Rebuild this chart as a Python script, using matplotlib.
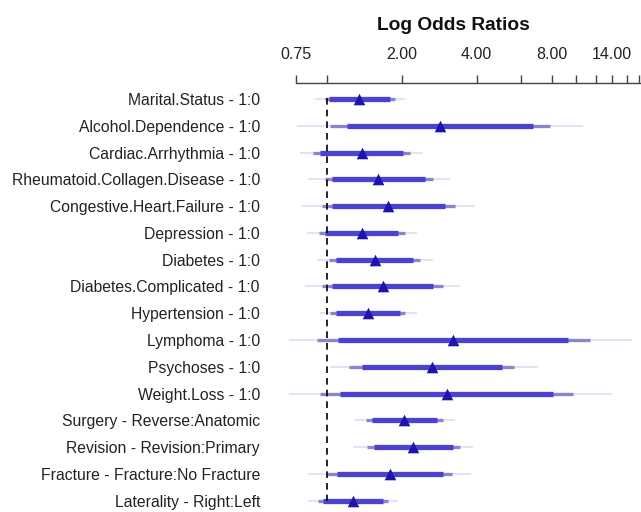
import matplotlib
matplotlib.use("Agg")
import matplotlib.pyplot as plt
import numpy as np

plt.rcParams['font.family'] = ['Liberation Sans', 'DejaVu Sans']

labels = [
    "Marital.Status - 1:0", "Alcohol.Dependence - 1:0", "Cardiac.Arrhythmia - 1:0",
    "Rheumatoid.Collagen.Disease - 1:0", "Congestive.Heart.Failure - 1:0",
    "Depression - 1:0", "Diabetes - 1:0", "Diabetes.Complicated - 1:0",
    "Hypertension - 1:0", "Lymphoma - 1:0", "Psychoses - 1:0", "Weight.Loss - 1:0",
    "Surgery - Reverse:Anatomic", "Revision - Revision:Primary",
    "Fracture - Fracture:No Fracture", "Laterality - Right:Left",
]
estimate = [1.352, 2.850, 1.382, 1.611, 1.767, 1.382, 1.563, 1.678,
            1.469, 3.222, 2.639, 3.031, 2.049, 2.226, 1.795, 1.279]
lo90 = [1.024, 1.203, 0.940, 1.047, 1.047, 0.984, 1.090, 1.047,
        1.090, 1.113, 1.382, 1.131, 1.516, 1.548, 1.103, 0.969]
hi90 = [1.795, 6.750, 2.030, 2.481, 2.984, 1.938, 2.226, 2.678,
        1.969, 9.326, 5.040, 8.119, 2.780, 3.222, 2.922, 1.687]
lo95 = [0.984, 1.031, 0.884, 0.984, 0.955, 0.934, 1.024, 0.955,
        1.031, 0.917, 1.232, 0.940, 1.438, 1.447, 1.000, 0.925]
hi95 = [1.880, 7.875, 2.159, 2.678, 3.273, 2.062, 2.369, 2.922,
        2.062, 11.40, 5.663, 9.712, 2.938, 3.428, 3.175, 1.767]
lo99 = [0.898, 0.758, 0.781, 0.844, 0.794, 0.831, 0.912, 0.818,
        0.940, 0.708, 1.031, 0.708, 1.299, 1.272, 0.844, 0.844]
hi99 = [2.062, 10.71, 2.442, 3.125, 3.938, 2.297, 2.678, 3.428,
        2.297, 16.76, 7.068, 13.93, 3.273, 3.877, 3.784, 1.938]

tick_values = [0.75, 1, 2, 4, 6, 8, 10, 12, 14, 16, 18]
tick_labels = ["0.75", "", "2.00", "4.00", "", "8.00", "", "", "14.00", "", ""]

W, H = 641, 512
fig = plt.figure(figsize=(W / 100, H / 100), dpi=100)

# axes geometry in pixels
ax_left, ax_right, ax_top, ax_bottom = 280, 641, 83, 512
ax = fig.add_axes([ax_left / W, 1 - ax_bottom / H, (ax_right - ax_left) / W,
                   (ax_bottom - ax_top) / H])

row0, dy = 99.0, 26.78
n = len(labels)
y = np.arange(n)

ax.set_xscale('log')
x_at_1, px_per_oct = 326.7, 75.0
xmin = 2 ** ((ax_left - x_at_1) / px_per_oct)
xmax = 2 ** ((ax_right - x_at_1) / px_per_oct)
ax.set_xlim(xmin, xmax)
ax.set_ylim((ax_bottom - row0) / dy, (ax_top - row0) / dy)

c99 = '#dddbf3'
c95 = '#8b85c9'
c90 = '#4c42d2'

ax.hlines(y, lo99, hi99, color=c99, lw=1.1, zorder=2)
ax.hlines(y, lo95, hi95, color=c95, lw=2.4, zorder=3)
ax.hlines(y, lo90, hi90, color=c90, lw=3.8, zorder=4)
ax.scatter(estimate, y, marker='^', s=70, color='#1e14aa', zorder=6,
           linewidths=0)

ax.vlines(1, -0.05, n - 1, colors='black', linestyles=(0, (4, 3)), lw=1.2, zorder=5)

ax.xaxis.tick_top()
ax.set_xticks(tick_values)
ax.set_xticklabels(tick_labels, fontsize=11.5, color='#222222')
ax.xaxis.set_minor_locator(matplotlib.ticker.NullLocator())
ax.tick_params(axis='x', which='major', direction='out', length=6, width=1.0,
               color='#444444', pad=9)

ax.set_yticks(y)
ax.set_yticklabels(labels, fontsize=11.3, color='#222222')
ax.tick_params(axis='y', length=0, pad=14.4)

for s in ['left', 'right', 'bottom']:
    ax.spines[s].set_visible(False)
ax.spines['top'].set_bounds(0.75, xmax)
ax.spines['top'].set_color('#444444')
ax.spines['top'].set_linewidth(1.0)

fig.text(453 / W, 1 - 25 / H, "Log Odds Ratios", fontsize=13.8, fontweight='bold',
         ha='center', va='center', color='#111111')

fig.savefig("out.png", dpi=100)
